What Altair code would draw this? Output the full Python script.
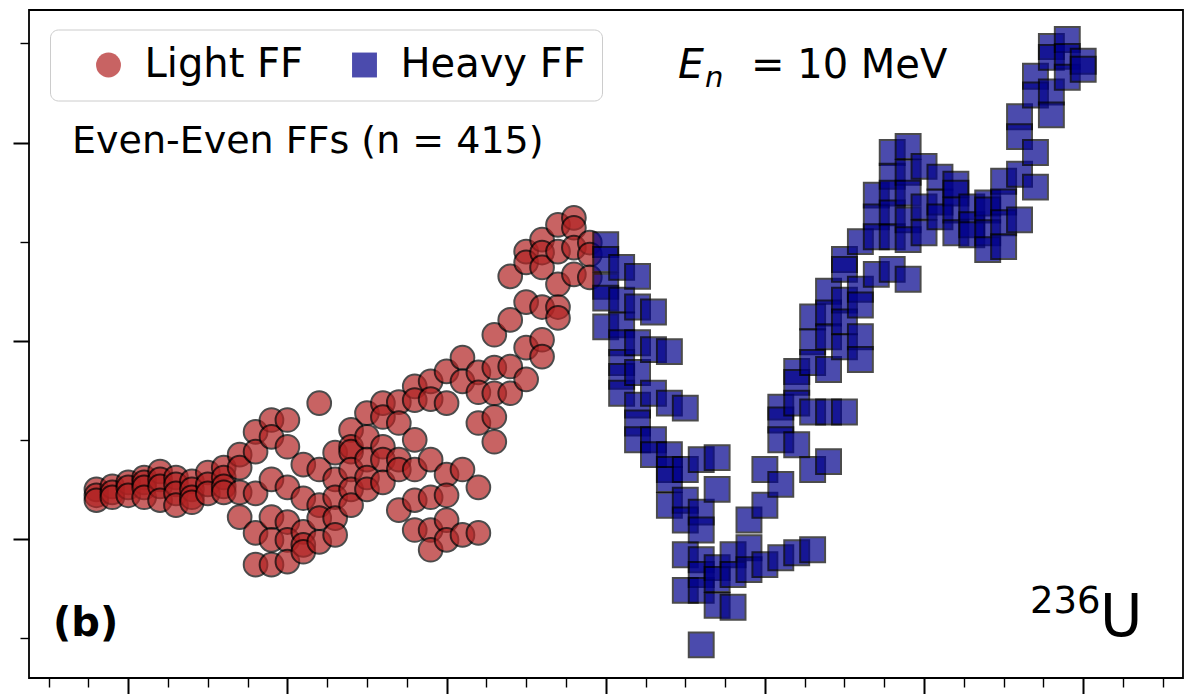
import altair as alt
import pandas as pd

# ---- data (x: fragment index units, y: value units) ----
light_x = [76, 78, 80, 82, 84, 86, 88, 90, 92, 94, 96, 98, 100, 102, 104, 106,
           108, 110, 112, 114, 116, 118, 120, 122, 124, 126, 128, 130, 132, 134, 136, 138]
light_y = [
    [4.50, 4.44, 4.39],
    [4.53, 4.47, 4.42],
    [4.57, 4.52, 4.44],
    [4.62, 4.57, 4.52, 4.42],
    [4.68, 4.60, 4.53, 4.39],
    [4.62, 4.55, 4.46, 4.34],
    [4.58, 4.50, 4.42, 4.37],
    [4.67, 4.55, 4.46],
    [4.72, 4.62, 4.53, 4.47],
    [4.85, 4.72, 4.47, 4.22],
    [5.08, 4.88, 4.46, 4.06, 3.74],
    [5.20, 5.03, 4.60, 4.22, 3.99, 3.74],
    [5.20, 4.93, 4.52, 4.17, 3.99, 3.77],
    [4.75, 4.41, 4.07, 3.94, 3.87],
    [5.37, 4.70, 4.34, 4.21, 3.97],
    [4.87, 4.60, 4.42, 4.21, 4.04],
    [5.10, 4.93, 4.88, 4.70, 4.50, 4.34],
    [5.27, 5.03, 4.80, 4.62, 4.50],
    [5.37, 5.23, 4.93, 4.80, 4.57],
    [5.38, 5.17, 4.80, 4.70, 4.29],
    [5.54, 5.40, 5.00, 4.70, 4.39, 4.09],
    [5.59, 5.41, 4.80, 4.42, 4.09, 3.89],
    [5.69, 5.37, 4.65, 4.44, 4.19, 3.99],
    [5.83, 5.59, 4.70, 4.04],
    [5.68, 5.48, 5.17, 4.52, 4.06],
    [6.06, 5.73, 5.47, 5.23, 4.98],
    [6.65, 6.21, 5.74, 5.47],
    [6.90, 6.79, 6.39, 5.93, 5.61],
    [7.02, 6.89, 6.74, 6.34, 6.01, 5.84],
    [7.17, 6.90, 6.57, 6.34, 6.23],
    [7.24, 7.14, 6.94, 6.67],
    [6.99, 6.87, 6.64],
]
heavy_x = [140, 142, 144, 146, 148, 150, 152, 154, 156, 158, 160, 162, 164, 166, 168, 170,
           172, 174, 176, 178, 180, 182, 184, 186, 188, 190, 192, 194, 196, 198, 200]
heavy_y = [
    [6.97, 6.82, 6.55, 6.43, 6.14],
    [6.74, 6.41, 6.16, 5.98, 5.78, 5.64, 5.47],
    [6.65, 6.34, 5.98, 5.68, 5.35, 5.17, 5.00],
    [6.29, 5.91, 5.47, 5.00, 4.85],
    [5.89, 5.37, 4.85, 4.70, 4.60, 4.34],
    [5.32, 4.70, 4.39, 4.19, 3.84, 3.48],
    [4.80, 4.27, 4.09, 3.79, 3.64, 3.48, 2.93],
    [4.82, 4.50, 3.71, 3.59, 3.33],
    [3.84, 3.64, 3.31],
    [4.19, 3.91, 3.69],
    [4.70, 4.34, 3.74],
    [5.33, 5.20, 5.00, 4.55, 3.81],
    [5.69, 5.58, 5.37, 4.95, 3.86],
    [6.24, 5.99, 5.78, 5.28, 4.70, 3.89],
    [6.50, 6.28, 6.04, 5.71, 5.28, 4.78],
    [6.82, 6.72, 6.41, 6.19, 5.94, 5.28],
    [7.00, 6.52, 6.36, 6.04, 5.81],
    [7.47, 7.25, 7.05, 6.67],
    [7.90, 7.66, 7.49, 7.29, 7.05, 6.72],
    [7.96, 7.70, 7.49, 7.22, 7.02, 6.62],
    [7.76, 7.35, 7.09],
    [7.65, 7.40, 7.25],
    [7.58, 7.49, 7.32, 7.09],
    [7.35, 7.17, 7.07],
    [7.39, 7.32, 7.09, 6.92],
    [7.61, 7.40, 7.19, 6.95],
    [8.26, 8.06, 7.68, 7.22],
    [8.67, 8.48, 7.90, 7.55],
    [8.97, 8.86, 8.51, 8.28],
    [9.04, 8.87, 8.66],
    [8.82, 8.74],
]
groups = ["Light FF", "Heavy FF"]
group_colors = ["#b22222", "#00008b"]
group_shapes = ["circle", "square"]

x_major = [80, 100, 120, 140, 160, 180, 200]
x_minor = [70, 75, 85, 90, 95, 105, 110, 115, 125, 130, 135, 145, 150, 155,
           165, 170, 175, 185, 190, 195, 205, 210]
y_major = [4, 6, 8]
y_minor = [3, 5, 7, 9]

rows_l = [{"x": x, "y": y, "group": groups[0]} for x, ys in zip(light_x, light_y) for y in ys]
rows_h = [{"x": x, "y": y, "group": groups[1]} for x, ys in zip(heavy_x, heavy_y) for y in ys]
df_l = pd.DataFrame(rows_l)
df_h = pd.DataFrame(rows_h)
df_all = pd.concat([df_l, df_h], ignore_index=True)

FONT = "DejaVu Sans"
W, H = 1154, 668
xs = alt.Scale(domain=[67.53, 212.54], nice=False, zero=False)
ys = alt.Scale(domain=[2.596, 9.338], nice=False, zero=False)


def axis(vals, size, width, orient):
    return alt.Axis(values=vals, tickSize=size, tickWidth=width, tickColor="black",
                    labels=False, domain=False, grid=False, title=None, orient=orient)


legend = alt.Legend(title=None, orient="none", legendX=21, legendY=19.5,
                    direction="horizontal", padding=15.5, cornerRadius=8,
                    strokeColor="#cccccc", fillColor="white",
                    labelFontSize=40, labelFont=FONT, labelColor="black", labelLimit=0,
                    symbolSize=620, symbolOffset=23, labelOffset=16, columnPadding=18,
                    symbolStrokeColor="black", symbolStrokeWidth=2, symbolOpacity=0.7)
color = alt.Color("group:N", scale=alt.Scale(domain=groups, range=group_colors), legend=legend)
shape = alt.Shape("group:N", scale=alt.Scale(domain=groups, range=group_shapes), legend=legend)

light = alt.Chart(df_l).mark_point(filled=True, opacity=0.7, stroke="black", strokeWidth=2,
                                   size=560).encode(
    x=alt.X("x:Q", scale=xs, axis=axis(x_major, 16, 2, "bottom")),
    y=alt.Y("y:Q", scale=ys, axis=axis(y_major, 16, 2, "left")),
    color=color, shape=shape)

heavy = alt.Chart(df_h).mark_point(filled=True, opacity=0.7, stroke="black", strokeWidth=2,
                                   size=620).encode(
    x=alt.X("x:Q", scale=xs, axis=None),
    y=alt.Y("y:Q", scale=ys, axis=None),
    color=color, shape=shape)

minor = alt.Chart(df_all).mark_point(opacity=0).encode(
    x=alt.X("x:Q", scale=xs, axis=axis(x_minor, 9, 1.4, "bottom")),
    y=alt.Y("y:Q", scale=ys, axis=axis(y_minor, 9, 1.4, "left")))


def label(text, x, y, size, style="normal", weight="normal"):
    return alt.Chart(pd.DataFrame({"t": [text]})).mark_text(
        align="left", baseline="alphabetic", font=FONT, fontSize=size,
        fontStyle=style, fontWeight=weight, color="black").encode(
        text="t:N", x=alt.value(x), y=alt.value(y))


texts = [
    label("E", 649, 68, 41, style="italic"),
    label("n", 676, 77, 29, style="italic"),
    label("= 10 MeV", 722, 68, 40),
    label("Even-Even FFs (n = 415)", 43, 143, 38),
    label("(b)", 24, 626, 40, weight="bold"),
    label("236", 1001, 603, 37),
    label("U", 1071, 626, 58),
]

chart = alt.layer(light, heavy, minor, *texts).resolve_axis(
    x="independent", y="independent"
).properties(
    width=W, height=H,
    autosize=alt.AutoSizeParams(type="none"),
    padding={"left": 29, "top": 10, "right": 12, "bottom": 16},
).configure(font=FONT).configure_view(stroke="black", strokeWidth=1.8)

chart.save("out.html", embed_options={"renderer": "svg", "actions": False})
